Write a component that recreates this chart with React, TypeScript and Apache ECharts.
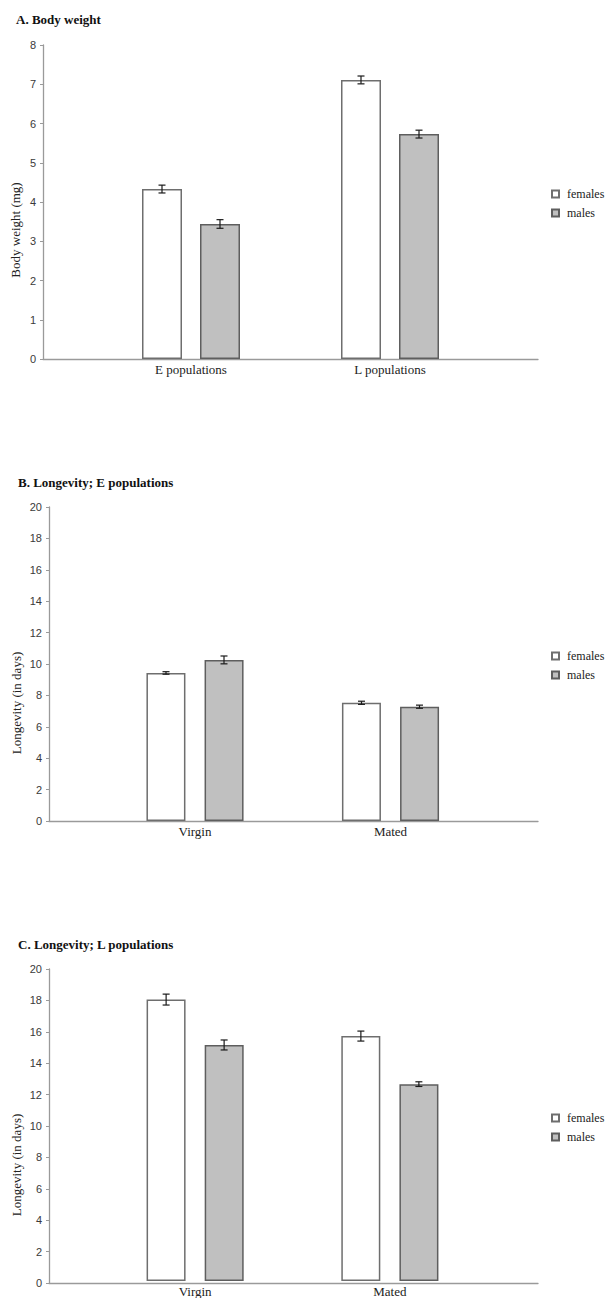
import React, { useEffect, useRef } from "react";
import * as echarts from "echarts";

// ---- Data ----
const categoriesA = ["E populations", "L populations"];
const femalesA = [4.33, 7.11];
const malesA = [3.44, 5.73];
const femalesAErr = [0.1, 0.1];
const malesAErr = [0.11, 0.1];

const categoriesBC = ["Virgin", "Mated"];
const femalesB = [9.43, 7.53];
const malesB = [10.26, 7.28];
const femalesBErr = [0.08, 0.1];
const malesBErr = [0.25, 0.1];

const femalesC = [18.04, 15.7];
const malesC = [15.13, 12.62];
const femalesCErr = [0.35, 0.32];
const malesCErr = [0.32, 0.15];

const ticksA = { min: 0, max: 8, interval: 1 };
const ticksBC = { min: 0, max: 20, interval: 2 };

const titles = ["A. Body weight", "B. Longevity; E populations", "C. Longevity; L populations"];
const yNames = ["Body weight (mg)", "Longevity (in days)", "Longevity (in days)"];
const legendNames = ["females", "males"];

const SERIF = "Liberation Serif, serif";
const SANS = "Liberation Sans, Arial, sans-serif";

export default function App() {
  const ref = useRef<HTMLDivElement>(null);

  useEffect(() => {
    if (!ref.current) return;
    const chart = echarts.init(ref.current, undefined, { renderer: "svg" });

    const panels = [
      {
        axisLeft: 43, top: 45, bottom: 359, barLeft: 91.5, barWidthPx: 398, barW: 40, gap: "45%", offset: 29,
        cats: categoriesA, f: femalesA, m: malesA, fe: femalesAErr, me: malesAErr, ticks: ticksA,
        title: titles[0], titleLeft: 16, titleTop: 12.5, yName: yNames[0], yNameX: 15, yNameY: 230, legendTop: 188,
      },
      {
        axisLeft: 49, top: 507, bottom: 821, barLeft: 97.25, barWidthPx: 391, barW: 39, gap: "49%", offset: 29,
        cats: categoriesBC, f: femalesB, m: malesB, fe: femalesBErr, me: malesBErr, ticks: ticksBC,
        title: titles[1], titleLeft: 18, titleTop: 475.5, yName: yNames[1], yNameX: 16, yNameY: 703, legendTop: 650,
      },
      {
        axisLeft: 49, top: 969, bottom: 1283, barLeft: 97.75, barWidthPx: 389.5, barW: 39, gap: "49%", offset: 29,
        cats: categoriesBC, f: femalesC, m: malesC, fe: femalesCErr, me: malesCErr, ticks: ticksBC,
        title: titles[2], titleLeft: 18, titleTop: 937.5, yName: yNames[2], yNameX: 16, yNameY: 1165, legendTop: 1112,
      },
    ];

    const grid: any[] = [];
    const xAxis: any[] = [];
    const yAxis: any[] = [];
    const series: any[] = [];
    const title: any[] = [];
    const legend: any[] = [];
    const graphic: any[] = [];

    const errRender = (offset: number) => (params: any, api: any) => {
      const cat = api.value(0);
      const v = api.value(1);
      const e = api.value(2);
      const hi = api.coord([cat, v + e]);
      const lo = api.coord([cat, v - e]);
      const x = hi[0] + offset;
      const cap = 3.5;
      const style = { stroke: "#1a1a1a", lineWidth: 1.2 };
      return {
        type: "group",
        children: [
          { type: "line", shape: { x1: x, y1: hi[1], x2: x, y2: lo[1] }, style },
          { type: "line", shape: { x1: x - cap, y1: hi[1], x2: x + cap, y2: hi[1] }, style },
          { type: "line", shape: { x1: x - cap, y1: lo[1], x2: x + cap, y2: lo[1] }, style },
        ],
      };
    };

    panels.forEach((p) => {
      const h = p.bottom - p.top;
      const gAxis = grid.length;
      grid.push({ left: p.axisLeft, top: p.top, width: 538 - p.axisLeft, height: h });
      const gBar = grid.length;
      grid.push({ left: p.barLeft, top: p.top, width: p.barWidthPx, height: h });

      xAxis.push({
        type: "category", gridIndex: gAxis, data: [""],
        axisLine: { show: true, lineStyle: { color: "#9a9a9a", width: 1.3 } },
        axisTick: { show: false }, axisLabel: { show: false }, splitLine: { show: false },
      });
      const xb = xAxis.length;
      xAxis.push({
        type: "category", gridIndex: gBar, data: p.cats,
        axisLine: { show: false }, axisTick: { show: false }, splitLine: { show: false },
        axisLabel: { margin: 4, fontFamily: SERIF, fontSize: 13, color: "#222" },
      });
      yAxis.push({
        type: "value", gridIndex: gAxis, min: p.ticks.min, max: p.ticks.max, interval: p.ticks.interval,
        axisLine: { show: true, lineStyle: { color: "#9a9a9a", width: 1.3 } },
        axisTick: { show: true, length: 3, lineStyle: { color: "#9a9a9a" } },
        splitLine: { show: false },
        axisLabel: { margin: 7, fontFamily: SANS, fontSize: 11, color: "#3a3a3a" },
      });
      const yb = yAxis.length;
      yAxis.push({
        type: "value", gridIndex: gBar, min: p.ticks.min, max: p.ticks.max, interval: p.ticks.interval,
        show: false, splitLine: { show: false },
      });

      series.push({
        name: legendNames[0], type: "bar", xAxisIndex: xb, yAxisIndex: yb, data: p.f,
        barWidth: p.barW, barGap: p.gap,
        itemStyle: { color: "#ffffff", borderColor: "#6e6e6e", borderWidth: 1.5 },
      });
      series.push({
        name: legendNames[1], type: "bar", xAxisIndex: xb, yAxisIndex: yb, data: p.m,
        barWidth: p.barW, barGap: p.gap,
        itemStyle: { color: "#c0c0c0", borderColor: "#5e5e5e", borderWidth: 1.5 },
      });
      series.push({
        type: "custom", xAxisIndex: xb, yAxisIndex: yb, z: 5,
        renderItem: errRender(-p.offset),
        data: p.f.map((v, k) => [k, v, p.fe[k]]),
      });
      series.push({
        type: "custom", xAxisIndex: xb, yAxisIndex: yb, z: 5,
        renderItem: errRender(p.offset),
        data: p.m.map((v, k) => [k, v, p.me[k]]),
      });

      title.push({
        text: p.title, left: p.titleLeft, top: p.titleTop, padding: 0,
        textStyle: { fontFamily: SERIF, fontWeight: "bold", fontSize: 13, color: "#111" },
      });

      legend.push({
        orient: "vertical", left: 551, top: p.legendTop, padding: 0,
        itemWidth: 7, itemHeight: 7, itemGap: 7, icon: "rect", selectedMode: false,
        data: legendNames,
        textStyle: { fontFamily: SERIF, fontSize: 12, color: "#222", lineHeight: 12, padding: [0, 0, 0, 3] },
      });

      graphic.push({
        type: "text", x: p.yNameX, y: p.yNameY, rotation: Math.PI / 2,
        style: {
          text: p.yName, font: `13px ${SERIF}`, fill: "#222",
          textAlign: "center", textVerticalAlign: "middle",
        },
      });
    });

    chart.setOption({
      animation: false,
      backgroundColor: "#ffffff",
      textStyle: { fontFamily: SERIF },
      title, legend, grid, xAxis, yAxis, series, graphic,
    });

    return () => chart.dispose();
  }, []);

  return (
    <div
      ref={ref}
      style={{ position: "absolute", left: 0, top: 0, width: 606, height: 1298 }}
    />
  );
}
